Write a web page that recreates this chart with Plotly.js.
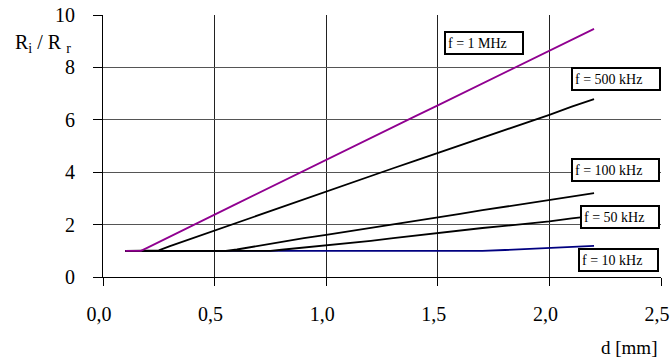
<!DOCTYPE html>
<html>
<head>
<meta charset="utf-8">
<script src="https://cdn.plot.ly/plotly-3.0.1.min.js"></script>
<style>html,body{margin:0;padding:0;background:#fff;}#chart{width:670px;height:358px;}</style>
</head>
<body>
<div id="chart"></div>
<script>
// ---- data ----
const x1MHz = [0.1,0.17,0.2,0.3,0.4,0.5,0.6,0.7,0.8,0.9,1.0,1.1,1.2,1.3,1.4,1.5,1.6,1.7,1.8,1.9,2.0,2.1,2.2];
const y1MHz = [1.0,1.0,1.12,1.55,1.97,2.38,2.8,3.22,3.65,4.07,4.48,4.9,5.32,5.73,6.14,6.55,6.97,7.38,7.8,8.22,8.64,9.06,9.47];

const x500k = [0.1,0.2,0.25,0.3,0.4,0.5,0.6,0.7,0.8,0.9,1.0,1.1,1.2,1.3,1.4,1.5,1.6,1.7,1.8,1.9,2.0,2.1,2.2];
const y500k = [1.0,1.0,1.02,1.18,1.48,1.77,2.06,2.35,2.65,2.96,3.27,3.56,3.85,4.15,4.44,4.73,5.02,5.3,5.6,5.9,6.19,6.5,6.79];

const x100k = [0.1,0.5,0.55,0.6,0.7,0.8,0.9,1.0,1.1,1.2,1.3,1.4,1.5,1.6,1.7,1.8,1.9,2.0,2.1,2.2];
const y100k = [1.0,1.0,1.0,1.05,1.2,1.35,1.48,1.61,1.74,1.88,2.01,2.15,2.28,2.41,2.55,2.68,2.82,2.95,3.08,3.2];

const x50k = [0.1,0.7,0.75,0.8,0.9,1.0,1.1,1.2,1.3,1.4,1.5,1.6,1.7,1.8,1.9,2.0,2.1,2.2];
const y50k = [1.0,1.0,1.0,1.04,1.12,1.2,1.29,1.38,1.48,1.58,1.68,1.77,1.87,1.95,2.04,2.12,2.24,2.33];

const x10k = [0.1,0.5,1.0,1.5,1.7,1.8,1.9,2.0,2.1,2.2];
const y10k = [1.0,1.0,1.0,1.0,1.0,1.03,1.07,1.12,1.16,1.19];

const xTicks = [0,0.5,1.0,1.5,2.0,2.5];
const yTicks = [0,2,4,6,8,10];

const labels = ['f = 1 MHz','f = 500 kHz','f = 100 kHz','f = 50 kHz','f = 10 kHz'];
// ---------------------------------------

const serif = "'Liberation Serif'";
const traces = [
  {x:x10k, y:y10k, mode:'lines', line:{color:'#000080', width:1.8}},
  {x:x50k, y:y50k, mode:'lines', line:{color:'#000000', width:1.8}},
  {x:x100k, y:y100k, mode:'lines', line:{color:'#000000', width:1.8}},
  {x:x500k, y:y500k, mode:'lines', line:{color:'#000000', width:1.8}},
  {x:x1MHz, y:y1MHz, mode:'lines', line:{color:'#900090', width:1.8}}
];

const boxPos = [
  {x:1.708, y:8.94, w:72},
  {x:2.30, y:7.57, w:82},
  {x:2.297, y:4.08, w:81},
  {x:2.318, y:2.28, w:72},
  {x:2.311, y:0.64, w:73}
];

const annotations = labels.map((t,i)=>({
  text:t, xref:'x', yref:'y', x:boxPos[i].x, y:boxPos[i].y,
  xanchor:'center', yanchor:'middle', showarrow:false,
  width:boxPos[i].w, height:16, align:'left', valign:'bottom',
  bordercolor:'#000', borderwidth:2, borderpad:2, bgcolor:'#fff',
  font:{family:serif, size:14, color:'#000'}
}));

annotations.push({
  text:'R<sub>i</sub> / R <sub>r</sub>', xref:'paper', yref:'paper',
  x:-0.161, y:0.893, xanchor:'left', yanchor:'middle', showarrow:false,
  font:{family:serif, size:20, color:'#000'}
});
annotations.push({
  text:'d [mm]', xref:'paper', yref:'paper',
  x:0.997, y:-0.268, xanchor:'right', yanchor:'middle', showarrow:false,
  font:{family:serif, size:19, color:'#000'}
});

const layout = {
  width:670, height:358,
  margin:{l:103, r:9, t:15, b:81, pad:0},
  paper_bgcolor:'#fff', plot_bgcolor:'#fff',
  showlegend:false,
  separators:', ',
  font:{family:serif, color:'#000'},
  xaxis:{
    range:[0,2.5], tickvals:xTicks, tickformat:'.1f',
    showgrid:true, gridcolor:'#222', gridwidth:1,
    showline:true, linecolor:'#000', linewidth:1,
    ticks:'outside', ticklen:8, tickcolor:'#000', ticklabelstandoff:11,
    ticklabelshift:-4, ticklabeloverflow:'allow',
    zeroline:false, fixedrange:true,
    tickfont:{family:serif, size:20, color:'#000'}
  },
  yaxis:{
    range:[0,10], tickvals:yTicks,
    showgrid:true, gridcolor:'#555', gridwidth:1,
    showline:true, linecolor:'#000', linewidth:1,
    ticks:'outside', ticklen:9, tickcolor:'#000', ticklabelstandoff:14,
    zeroline:false, fixedrange:true,
    tickfont:{family:serif, size:20, color:'#000'}
  },
  annotations:annotations
};

Plotly.newPlot('chart', traces, layout, {staticPlot:true, displayModeBar:false});
</script>
</body>
</html>
